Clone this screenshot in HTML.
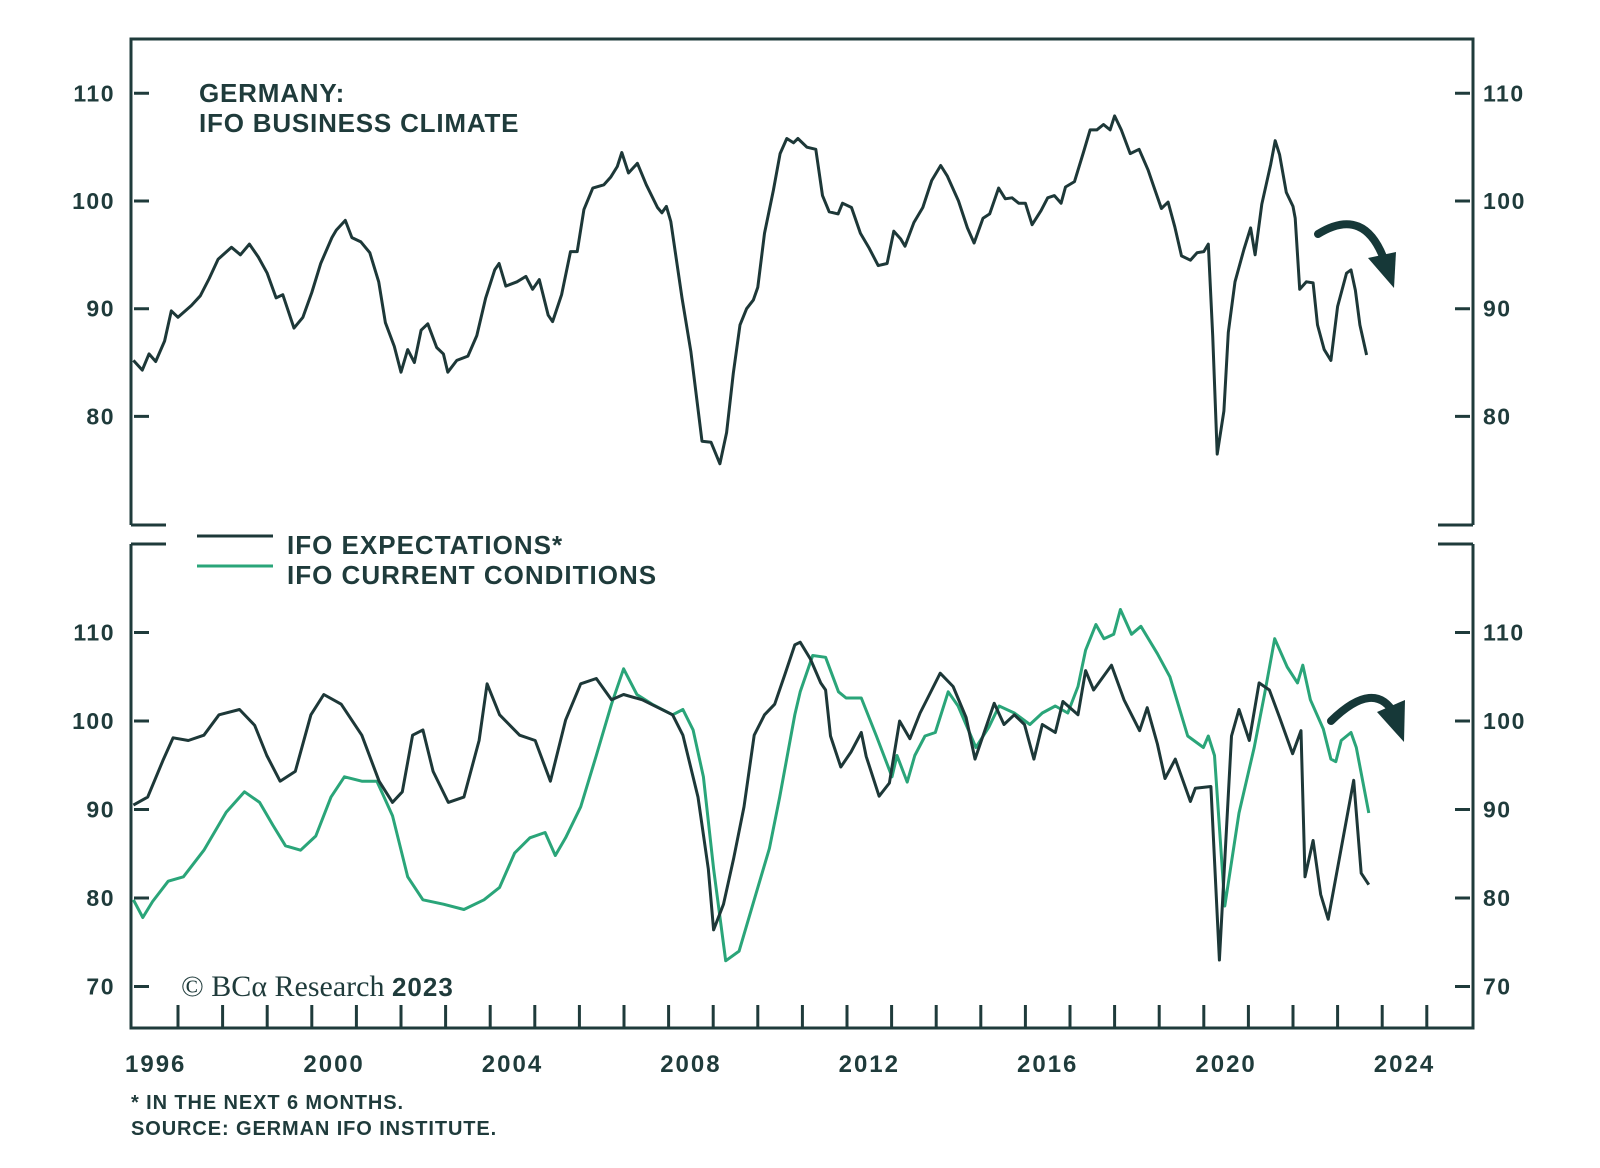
<!DOCTYPE html>
<html><head><meta charset="utf-8"><style>
html,body{margin:0;padding:0;background:#fff;}
svg{display:block;}
text{font-family:"Liberation Sans",sans-serif;fill:#1f3b3b;}
</style></head><body>
<svg id="chart" width="1600" height="1168" viewBox="0 0 1600 1168">
<g id="frame" stroke="#1f3b3b" stroke-width="3" fill="none">
<path d="M131,525 L131,39 L1473,39 L1473,525"/>
<path d="M131,525 L166,525 M1438,525 L1473,525"/>
<path d="M131,544 L131,1028 L1473,1028 L1473,544"/>
<path d="M131,544 L166,544 M1438,544 L1473,544"/>
</g>
<g id="axes"></g>
<g id="series"></g>
<text x="199" y="102" font-size="26" font-weight="bold" letter-spacing="0.8">GERMANY:</text>
<text x="199" y="132" font-size="26" font-weight="bold" letter-spacing="0.8">IFO BUSINESS CLIMATE</text>
<line x1="197" y1="536" x2="273" y2="536" stroke="#1d3838" stroke-width="3"/>
<line x1="197" y1="566" x2="273" y2="566" stroke="#2aa579" stroke-width="3"/>
<text x="287" y="554" font-size="26" font-weight="bold" letter-spacing="1">IFO EXPECTATIONS*</text>
<text x="287" y="584" font-size="26" font-weight="bold" letter-spacing="1">IFO CURRENT CONDITIONS</text>
<text x="181" y="996" font-size="30" style="font-family:'Liberation Serif',serif">© BCα Research <tspan style="font-family:'Liberation Sans',sans-serif;font-weight:bold" font-size="26" letter-spacing="1">2023</tspan></text>
<text x="131" y="1109" font-size="20" font-weight="bold" letter-spacing="0.9">* IN THE NEXT 6 MONTHS.</text>
<text x="131" y="1135" font-size="20" font-weight="bold" letter-spacing="0.9">SOURCE: GERMAN IFO INSTITUTE.</text>
<g>
<path d="M1318,234 Q1365,205 1385,262" stroke="#163838" stroke-width="8" fill="none" stroke-linecap="round"/>
<polygon points="1368,258 1396,252 1394,288" fill="#163838"/>
</g>
<g>
<path d="M1331,721 Q1375,678 1395,715" stroke="#163838" stroke-width="8" fill="none" stroke-linecap="round"/>
<polygon points="1377,712 1405,700 1404,742" fill="#163838"/>
</g>
</svg>
<script>
const climateT=[1996.0,1996.2,1996.35,1996.5,1996.7,1996.85,1997.0,1997.3,1997.5,1997.7,1997.9,1998.2,1998.4,1998.6,1998.8,1999.0,1999.2,1999.35,1999.6,1999.8,2000.0,2000.2,2000.45,2000.55,2000.75,2000.9,2001.1,2001.3,2001.5,2001.65,2001.85,2002.0,2002.15,2002.3,2002.45,2002.6,2002.8,2002.95,2003.05,2003.25,2003.5,2003.7,2003.9,2004.1,2004.2,2004.35,2004.6,2004.8,2004.95,2005.1,2005.3,2005.4,2005.6,2005.8,2005.95,2006.1,2006.3,2006.55,2006.7,2006.85,2006.95,2007.1,2007.3,2007.5,2007.75,2007.85,2007.95,2008.05,2008.3,2008.5,2008.75,2008.95,2009.15,2009.3,2009.45,2009.6,2009.75,2009.9,2010.0,2010.15,2010.35,2010.5,2010.65,2010.8,2010.9,2011.1,2011.3,2011.45,2011.6,2011.8,2011.9,2012.1,2012.3,2012.5,2012.7,2012.9,2013.05,2013.2,2013.3,2013.5,2013.7,2013.9,2014.1,2014.25,2014.5,2014.7,2014.85,2015.05,2015.2,2015.4,2015.55,2015.7,2015.85,2016.0,2016.15,2016.35,2016.5,2016.65,2016.8,2016.9,2017.1,2017.3,2017.45,2017.6,2017.75,2017.9,2018.0,2018.15,2018.35,2018.55,2018.75,2018.9,2019.05,2019.2,2019.35,2019.5,2019.7,2019.85,2020.0,2020.1,2020.2,2020.3,2020.45,2020.55,2020.7,2020.9,2021.05,2021.15,2021.3,2021.5,2021.6,2021.7,2021.85,2022.0,2022.05,2022.15,2022.3,2022.45,2022.55,2022.7,2022.85,2023.0,2023.2,2023.3,2023.4,2023.5,2023.65];
const climateV=[85.2,84.3,85.8,85.1,87,89.8,89.2,90.3,91.2,92.8,94.6,95.7,95.0,96.0,94.8,93.3,91,91.3,88.2,89.2,91.5,94.2,96.6,97.3,98.2,96.6,96.2,95.2,92.5,88.7,86.5,84.1,86.2,85.0,88,88.6,86.4,85.8,84.1,85.2,85.6,87.5,91,93.6,94.2,92.1,92.5,93.0,91.8,92.7,89.4,88.8,91.3,95.3,95.3,99.2,101.2,101.5,102.2,103.2,104.5,102.6,103.5,101.5,99.4,98.9,99.5,98.1,91,86,77.7,77.6,75.6,78.5,84,88.5,90,90.8,92,97,101,104.4,105.8,105.4,105.8,105,104.8,100.5,99.0,98.8,99.8,99.4,97,95.6,94.0,94.2,97.2,96.5,95.8,98.0,99.4,101.9,103.3,102.3,100,97.5,96.1,98.4,98.8,101.2,100.2,100.3,99.8,99.8,97.8,99.1,100.3,100.5,99.8,101.3,101.8,104.5,106.6,106.6,107.1,106.6,107.9,106.6,104.4,104.8,102.9,101.1,99.3,99.9,97.6,94.9,94.5,95.2,95.3,96.0,87.5,76.5,80.5,87.8,92.5,95.5,97.5,95.0,99.7,103.4,105.6,104.3,100.8,99.5,98.4,91.8,92.5,92.4,88.5,86.2,85.2,90.2,93.3,93.6,91.7,88.5,85.7];
const expT=[1996.00,1996.32,1996.66,1996.89,1997.23,1997.58,1997.92,1998.38,1998.72,1998.99,1999.29,1999.63,1999.98,2000.27,2000.66,2001.12,2001.51,2001.81,2002.03,2002.26,2002.49,2002.72,2003.06,2003.41,2003.75,2003.93,2004.21,2004.66,2005.01,2005.35,2005.69,2006.03,2006.38,2006.72,2006.99,2007.41,2008.09,2008.32,2008.66,2008.89,2009.01,2009.23,2009.46,2009.69,2009.92,2010.15,2010.38,2010.61,2010.83,2010.95,2011.18,2011.41,2011.52,2011.63,2011.86,2012.09,2012.32,2012.43,2012.72,2012.95,2013.18,2013.41,2013.64,2013.81,2014.09,2014.38,2014.67,2014.87,2015.30,2015.52,2015.75,2015.98,2016.19,2016.38,2016.67,2016.84,2017.18,2017.35,2017.53,2017.93,2018.21,2018.56,2018.73,2018.96,2019.13,2019.36,2019.70,2019.81,2020.16,2020.35,2020.62,2020.79,2021.02,2021.24,2021.47,2021.70,2021.99,2022.18,2022.27,2022.45,2022.62,2022.79,2023.36,2023.53,2023.70];
const expV=[90.5,91.4,95.5,98.1,97.8,98.4,100.7,101.3,99.5,96.1,93.2,94.3,100.7,103.0,101.9,98.4,93.2,90.8,92.0,98.4,99.0,94.3,90.8,91.4,97.8,104.2,100.7,98.4,97.8,93.2,100.1,104.2,104.8,102.4,103.0,102.4,100.7,98.4,91.4,83.3,76.4,79.3,84.5,90.3,98.4,100.7,101.9,105.3,108.6,108.9,107,104.3,103.5,98.3,94.8,96.5,98.7,96,91.5,93,100,98,100.9,102.6,105.4,103.9,100.4,95.7,102,99.6,100.7,99.6,95.7,99.6,98.7,102.2,100.7,105.7,103.5,106.3,102.4,98.9,101.5,97.4,93.5,95.7,90.9,92.4,92.6,73.0,98.3,101.3,97.8,104.3,103.5,100.4,96.3,98.9,82.4,86.5,80.4,77.6,93.3,82.8,81.5];
const curT=[1996.00,1996.21,1996.43,1996.78,1997.12,1997.58,1998.08,1998.49,1998.83,1999.13,1999.41,1999.75,2000.09,2000.43,2000.73,2001.12,2001.46,2001.81,2002.15,2002.49,2002.95,2003.41,2003.86,2004.21,2004.55,2004.89,2005.23,2005.46,2005.69,2006.03,2006.38,2006.72,2006.99,2007.29,2007.63,2008.09,2008.32,2008.55,2008.78,2009.01,2009.28,2009.58,2009.92,2010.26,2010.49,2010.83,2010.95,2011.23,2011.52,2011.81,2011.98,2012.32,2012.66,2013.01,2013.12,2013.35,2013.52,2013.75,2013.98,2014.27,2014.49,2014.89,2015.18,2015.41,2015.75,2016.10,2016.38,2016.67,2016.95,2017.18,2017.35,2017.58,2017.76,2017.98,2018.13,2018.38,2018.59,2018.96,2019.24,2019.64,2019.99,2020.10,2020.24,2020.47,2020.79,2021.13,2021.36,2021.59,2021.87,2022.10,2022.22,2022.39,2022.68,2022.85,2022.96,2023.08,2023.30,2023.42,2023.70];
const curV=[79.8,77.8,79.6,81.9,82.4,85.4,89.7,92.0,90.8,88.2,85.9,85.4,87.0,91.4,93.7,93.2,93.2,89.3,82.4,79.8,79.3,78.7,79.8,81.2,85.1,86.8,87.4,84.8,86.8,90.3,96.1,101.9,105.9,103.0,101.9,100.7,101.3,99.0,93.7,83.3,72.9,74.0,79.8,85.6,91.4,100.7,103.3,107.4,107.2,103.3,102.6,102.6,98.3,93.7,96.1,93.1,96.1,98.3,98.7,103.3,101.7,97,99.3,101.7,100.9,99.6,100.9,101.7,100.9,103.9,108,110.9,109.3,109.8,112.6,109.8,110.7,107.6,105,98.3,97,98.3,96.1,79.1,89.6,97,103,109.3,106.1,104.3,106.3,102.4,99.1,95.7,95.4,97.8,98.7,97,89.6];
const topTicks=[80,90,100,110];
const botTicks=[70,80,90,100,110];
const yearLabels=[1996,2000,2004,2008,2012,2016,2020,2024];

const NS='http://www.w3.org/2000/svg';
const X0=133.4, PXY=44.6;
function x(t){return X0+(t-1996)*PXY;}
function yTop(v){return 201-(v-100)*10.77;}
function yBot(v){return 721-(v-100)*8.85;}
const axes=document.getElementById('axes');
const series=document.getElementById('series');
function mk(tag,attrs,parent){const e=document.createElementNS(NS,tag);for(const k in attrs)e.setAttribute(k,attrs[k]);parent.appendChild(e);return e;}
function yTicks(list,yf,panel){
  list.forEach(v=>{
    const y=yf(v);
    const l=mk('path',{d:`M134,${y} L149,${y} M1455,${y} L1470,${y}`,stroke:'#1f3b3b','stroke-width':3},axes);
    
    
    const a=mk('text',{x:115,y:y+8,'font-size':23,'font-weight':'bold','text-anchor':'end','letter-spacing':1.5},axes);
    a.textContent=v;
    
    
    const b=mk('text',{x:1483,y:y+8,'font-size':23,'font-weight':'bold','letter-spacing':1.5},axes);
    b.textContent=v;
    
    
  });
}
yTicks(topTicks,yTop,'top');
yTicks(botTicks,yBot,'bottom');
for(let yr=1997;yr<=2025;yr++){
  const xx=x(yr);
  const t=mk('line',{x1:xx,y1:1005,x2:xx,y2:1028,stroke:'#1f3b3b','stroke-width':3},axes);
  
  
}
yearLabels.forEach(yr=>{
  const t=mk('text',{x:x(yr+0.5),y:1072,'font-size':24,'font-weight':'bold','text-anchor':'middle','letter-spacing':2},axes);
  t.textContent=yr;
  
  
});
function line(ts,vs,yf,color,name){
  const d=ts.map((t,i)=>(i?'L':'M')+x(t).toFixed(1)+','+yf(vs[i]).toFixed(1)).join(' ');
  const p=mk('path',{d:d,stroke:color,'stroke-width':3,fill:'none','stroke-linejoin':'round'},series);
  
  
}
line(climateT,climateV,yTop,'#1d3838','ifo-business-climate-line');
line(curT,curV,yBot,'#2aa579','ifo-current-conditions-line');
line(expT,expV,yBot,'#1d3838','ifo-expectations-line');
</script>
</body></html>
